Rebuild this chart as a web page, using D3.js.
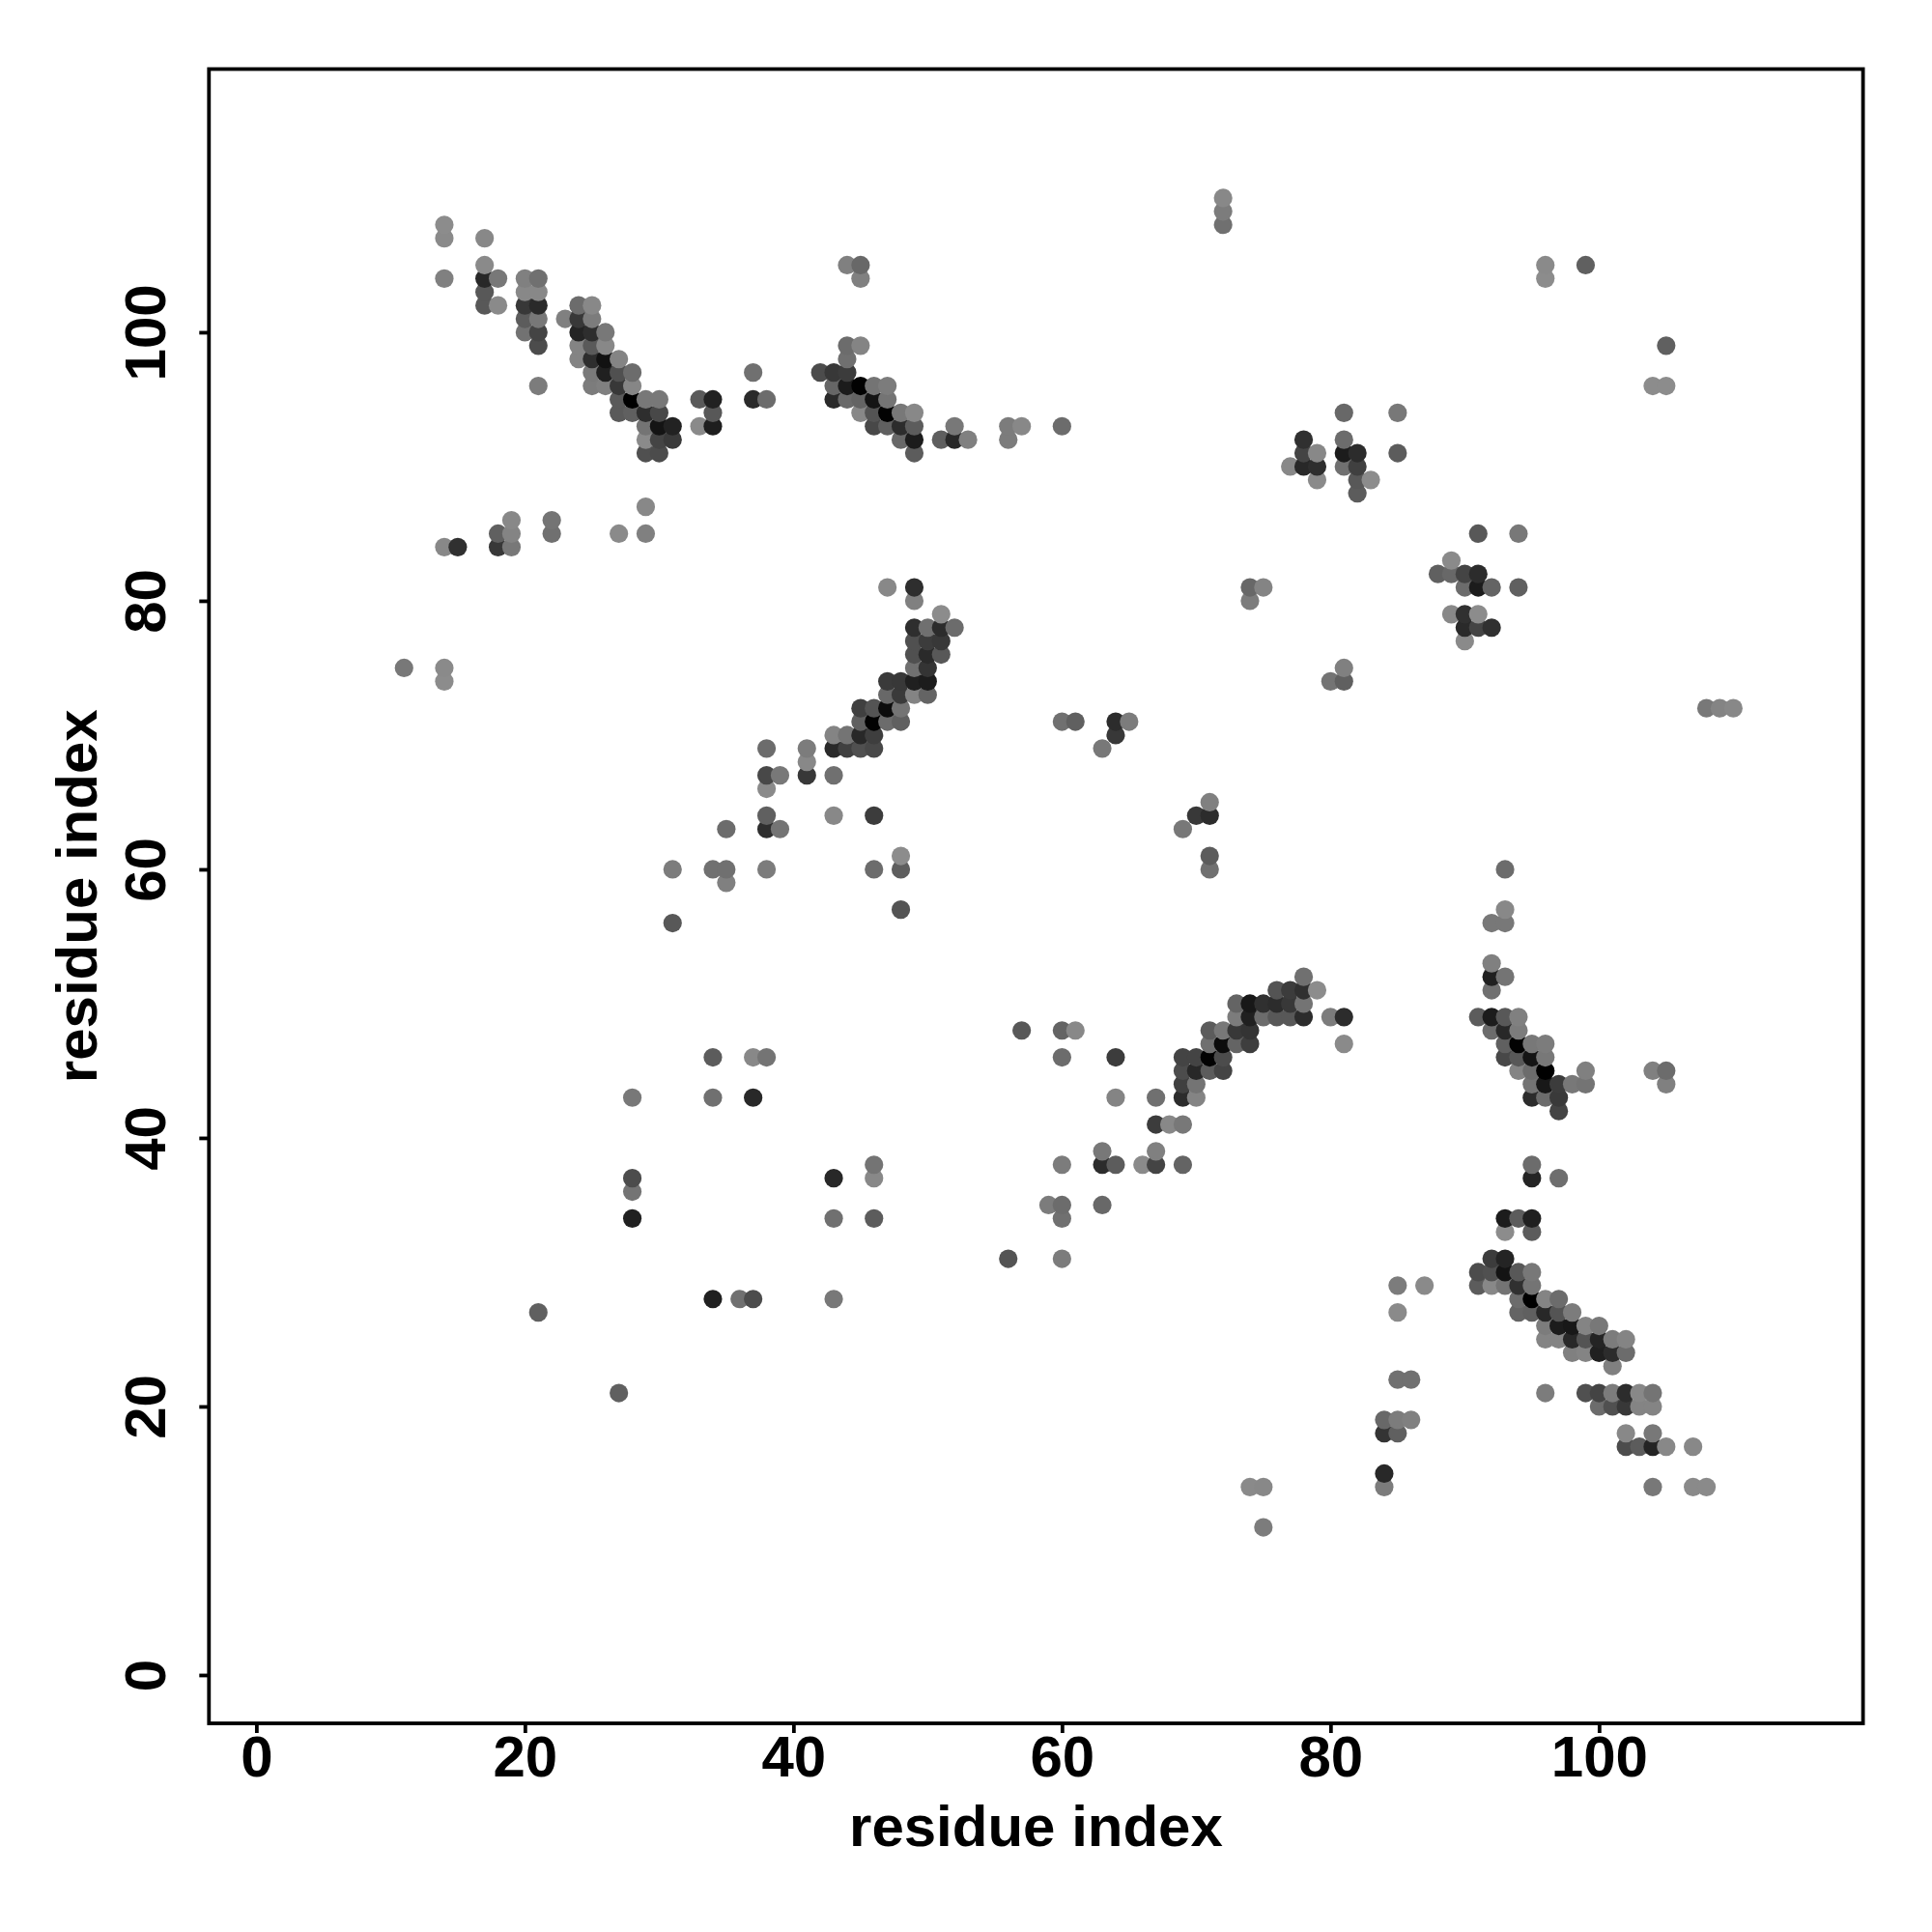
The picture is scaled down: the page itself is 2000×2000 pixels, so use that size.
<!DOCTYPE html>
<html>
<head>
<meta charset="utf-8">
<style>html,body{margin:0;padding:0;background:#fff}svg{display:block}</style>
<script src="https://cdnjs.cloudflare.com/ajax/libs/d3/7.9.0/d3.min.js"></script>
</head>
<body>
<svg id="chart" width="2000" height="2000"></svg>
<script>
// Each contact: [residue i, residue j, grey level]
const columns11to23 = [
[11,75,0x78],
[14,108,0x8c],[14,107,0x8a],[14,104,0x80],[14,84,0x88],[14,75,0x8a],[14,74,0x8c],
[15,84,0x30],
[17,107,0x88],[17,105,0x8a],[17,104,0x28],[17,103,0x58],[17,102,0x58],
[18,104,0x78],[18,102,0x8a],[18,85,0x60],[18,84,0x38],
[19,86,0x88],[19,85,0x84],[19,84,0x78],
[20,104,0x80],[20,103,0x88],[20,102,0x38],[20,101,0x5c],[20,100,0x72],
[21,104,0x70],[21,103,0x88],[21,102,0x2a],[21,101,0x78],[21,100,0x44],[21,99,0x4c],[21,96,0x7c],[21,27,0x60],
[22,86,0x74],[22,85,0x70],
[23,101,0x80]
];
const columns24to38 = [
[24,102,0x6c],[24,101,0x38],[24,100,0x24],[24,99,0x84],[24,98,0x84],
[25,102,0x88],[25,101,0x7c],[25,100,0x2e],[25,99,0x5a],[25,98,0x2e],[25,97,0x7a],[25,96,0x7c],
[26,100,0x78],[26,99,0x88],[26,98,0x12],[26,97,0x20],[26,96,0x80],
[27,98,0x84],[27,97,0x50],[27,96,0x38],[27,95,0x5a],[27,94,0x5a],[27,85,0x8a],[27,21,0x60],
[28,97,0x6c],[28,96,0x86],[28,95,0x00],[28,94,0x60],[28,43,0x78],[28,37,0x4c],[28,36,0x74],[28,34,0x20],
[29,95,0x78],[29,94,0x2e],[29,93,0x74],[29,92,0x8a],[29,91,0x50],[29,87,0x88],[29,85,0x80],
[30,95,0x78],[30,94,0x48],[30,93,0x14],[30,92,0x44],[30,91,0x4c],
[31,93,0x22],[31,92,0x3a],[31,60,0x7c],[31,56,0x58],
[33,95,0x5a],[33,93,0x8a],
[34,95,0x22],[34,94,0x58],[34,93,0x1e],[34,60,0x70],[34,46,0x5c],[34,43,0x70],[34,28,0x20],
[35,63,0x6c],[35,60,0x70],[35,59,0x80],
[36,28,0x70],
[37,97,0x70],[37,95,0x2a],[37,46,0x88],[37,43,0x28],[37,28,0x4c],
[38,95,0x6c],[38,69,0x6c],[38,67,0x48],[38,66,0x8a],[38,64,0x60],[38,63,0x2e],[38,60,0x7c],[38,46,0x74]
];
const columns39to53 = [
[39,67,0x78],[39,63,0x74],
[41,69,0x7c],[41,68,0x88],[41,67,0x38],
[42,97,0x4c],
[43,97,0x38],[43,96,0x66],[43,95,0x2a],[43,70,0x84],[43,69,0x2a],[43,67,0x70],[43,64,0x88],[43,37,0x28],[43,34,0x70],[43,28,0x78],
[44,105,0x80],[44,99,0x6c],[44,98,0x70],[44,97,0x3c],[44,96,0x1c],[44,95,0x6a],[44,70,0x74],[44,69,0x40],
[45,105,0x68],[45,104,0x80],[45,99,0x84],[45,96,0x02],[45,95,0x64],[45,94,0x88],[45,72,0x40],[45,71,0x60],[45,70,0x28],[45,69,0x50],
[46,96,0x74],[46,95,0x14],[46,94,0x54],[46,93,0x48],[46,72,0x54],[46,71,0x02],[46,70,0x3e],[46,69,0x48],[46,64,0x3c],[46,60,0x6c],[46,38,0x74],[46,37,0x88],[46,34,0x5c],
[47,96,0x7c],[47,95,0x74],[47,94,0x02],[47,93,0x60],[47,81,0x88],[47,74,0x3a],[47,73,0x68],[47,72,0x0c],[47,71,0x6c],
[48,94,0x78],[48,93,0x2c],[48,92,0x68],[48,74,0x38],[48,73,0x3a],[48,72,0x74],[48,71,0x60],[48,61,0x8c],[48,60,0x5e],[48,57,0x54],
[49,94,0x88],[49,93,0x5c],[49,92,0x1c],[49,91,0x5c],[49,81,0x2e],[49,80,0x80],[49,78,0x2e],[49,77,0x50],[49,76,0x50],[49,75,0x70],[49,74,0x20],[49,73,0x84],
[50,78,0x70],[50,77,0x3c],[50,76,0x2a],[50,75,0x34],[50,74,0x1c],[50,73,0x64],
[51,92,0x5e],[51,79,0x8c],[51,78,0x2c],[51,77,0x38],[51,76,0x58],
[52,93,0x78],[52,92,0x28],[52,78,0x6c],
[53,92,0x80]
];
const columns56to72 = [
[56,93,0x7c],[56,92,0x7c],[56,31,0x54],
[57,93,0x88],[57,48,0x58],
[59,35,0x7c],
[60,93,0x6c],[60,71,0x70],[60,48,0x64],[60,46,0x6c],[60,38,0x7c],[60,35,0x6c],[60,34,0x70],[60,31,0x7c],
[61,71,0x60],[61,48,0x88],
[63,69,0x78],[63,39,0x78],[63,38,0x2c],[63,35,0x68],
[64,71,0x2c],[64,70,0x38],[64,46,0x3c],[64,43,0x84],[64,38,0x5c],
[65,71,0x7c],
[66,38,0x8a],
[67,43,0x70],[67,41,0x3c],[67,39,0x80],[67,38,0x44],
[68,41,0x88],
[69,63,0x78],[69,46,0x44],[69,45,0x4c],[69,44,0x40],[69,43,0x2c],[69,41,0x78],[69,38,0x64],
[70,64,0x38],[70,46,0x44],[70,45,0x28],[70,44,0x74],[70,43,0x84],
[71,65,0x80],[71,64,0x2c],[71,61,0x5c],[71,60,0x70],[71,48,0x5c],[71,47,0x70],[71,46,0x02],[71,45,0x5c],
[72,110,0x88],[72,109,0x7c],[72,108,0x70],[72,48,0x78],[72,47,0x0c],[72,46,0x4c],[72,45,0x44]
];
const columns73to87 = [
[73,50,0x64],[73,49,0x7c],[73,48,0x38],[73,47,0x64],
[74,81,0x68],[74,80,0x7c],[74,50,0x18],[74,49,0x20],[74,48,0x34],[74,47,0x3e],[74,14,0x8a],
[75,81,0x84],[75,50,0x30],[75,49,0x6c],[75,14,0x88],[75,11,0x7c],
[76,51,0x54],[76,50,0x2c],[76,49,0x58],
[77,90,0x88],[77,51,0x3c],[77,50,0x38],[77,49,0x58],
[78,92,0x30],[78,91,0x44],[78,90,0x28],[78,52,0x70],[78,51,0x30],[78,50,0x74],[78,49,0x2c],
[79,91,0x88],[79,90,0x2e],[79,89,0x8a],[79,51,0x8c],
[80,74,0x74],[80,49,0x7c],
[81,94,0x68],[81,92,0x6c],[81,91,0x1c],[81,90,0x70],[81,75,0x80],[81,74,0x60],[81,49,0x2c],[81,47,0x8a],
[82,91,0x2c],[82,90,0x40],[82,89,0x58],[82,88,0x5c],
[83,89,0x8c],
[84,19,0x68],[84,18,0x34],[84,15,0x28],[84,14,0x7c],
[85,94,0x78],[85,91,0x5c],[85,29,0x7c],[85,27,0x8a],[85,22,0x70],[85,19,0x7c],[85,18,0x60],
[86,22,0x70],[86,19,0x80],
[87,29,0x8a]
];
const columns88to95 = [
[88,82,0x60],
[89,83,0x8a],[89,82,0x68],[89,79,0x88],
[90,82,0x44],[90,81,0x6c],[90,79,0x30],[90,78,0x2a],[90,77,0x8a],
[91,85,0x58],[91,82,0x2c],[91,81,0x1c],[91,79,0x8c],[91,78,0x44],[91,49,0x5c],[91,30,0x4c],[91,29,0x5c],
[92,81,0x64],[92,78,0x30],[92,56,0x78],[92,53,0x80],[92,52,0x20],[92,51,0x70],[92,49,0x1c],[92,48,0x6c],[92,31,0x3c],[92,30,0x50],[92,29,0x88],
[93,60,0x6c],[93,57,0x88],[93,56,0x78],[93,52,0x74],[93,49,0x58],[93,48,0x28],[93,47,0x60],[93,46,0x48],[93,34,0x1c],[93,33,0x8c],[93,31,0x24],[93,30,0x14],[93,29,0x74],
[94,85,0x78],[94,81,0x60],[94,49,0x80],[94,48,0x7c],[94,47,0x02],[94,46,0x58],[94,45,0x84],[94,34,0x5c],[94,30,0x58],[94,29,0x30],[94,28,0x6c],[94,27,0x64],
[95,47,0x78],[95,46,0x14],[95,45,0x6c],[95,44,0x74],[95,43,0x2c],[95,38,0x6c],[95,37,0x24],[95,34,0x20],[95,33,0x5c],[95,30,0x78],[95,29,0x74],[95,28,0x00],[95,27,0x60]
];
const columns96to110 = [
[96,105,0x8a],[96,104,0x8c],[96,47,0x7c],[96,46,0x78],[96,45,0x00],[96,44,0x18],[96,43,0x6c],[96,28,0x84],[96,27,0x28],[96,26,0x7c],[96,25,0x84],[96,21,0x7c],
[97,44,0x3c],[97,43,0x3a],[97,42,0x44],[97,37,0x6e],[97,28,0x6c],[97,27,0x54],[97,26,0x1c],[97,25,0x84],
[98,44,0x78],[98,27,0x7c],[98,26,0x18],[98,25,0x28],[98,24,0x80],
[99,105,0x60],[99,45,0x80],[99,44,0x74],[99,26,0x84],[99,25,0x54],[99,24,0x84],[99,21,0x50],
[100,26,0x78],[100,25,0x24],[100,24,0x20],[100,21,0x44],[100,20,0x6c],
[101,25,0x7c],[101,24,0x2c],[101,23,0x80],[101,21,0x7c],[101,20,0x50],
[102,25,0x84],[102,24,0x6c],[102,21,0x2c],[102,20,0x38],[102,18,0x88],[102,17,0x4c],
[103,21,0x88],[103,20,0x84],[103,17,0x5c],
[104,96,0x8c],[104,45,0x80],[104,21,0x74],[104,20,0x84],[104,18,0x78],[104,17,0x24],[104,14,0x78],
[105,99,0x60],[105,96,0x8c],[105,45,0x6c],[105,44,0x80],[105,17,0x88],
[107,17,0x88],[107,14,0x8a],
[108,72,0x78],[108,14,0x8a],
[109,72,0x84],
[110,72,0x88]
];
const tickValues = [0, 20, 40, 60, 80, 100];
const xDomain = [-3.53, 119.66];
const yDomain = [-3.6, 119.6];
const axisTitle = "residue index";

const contacts = [].concat(columns11to23, columns24to38, columns39to53, columns56to72, columns73to87, columns88to95, columns96to110)
  .map(d => ({i: d[0], j: d[1], grey: d[2]}))
  .sort((a, b) => d3.ascending(a.i, b.i) || d3.ascending(a.j, b.j));

const FONT = '"Liberation Sans", Arial, sans-serif';
const FONT_SIZE = "60px";
const frameLeft = 216.3, frameRight = 1928.6, frameTop = 71.5, frameBottom = 1784;
const xScale = d3.scaleLinear().domain(xDomain).range([frameLeft, frameRight]);
const yScale = d3.scaleLinear().domain(yDomain).range([frameBottom, frameTop]);
const shade = d3.scaleLinear().domain([0, 255]).range(["#000000", "#ffffff"]);

const svg = d3.select("#chart");
svg.append("rect").attr("width", 2000).attr("height", 2000).attr("fill", "#fff");

svg.append("g").selectAll("circle").data(contacts).join("circle")
  .attr("cx", d => xScale(d.i))
  .attr("cy", d => yScale(d.j))
  .attr("r", 9.6)
  .attr("fill", d => shade(d.grey));

svg.append("rect")
  .attr("x", frameLeft).attr("y", frameTop)
  .attr("width", frameRight - frameLeft).attr("height", frameBottom - frameTop)
  .attr("fill", "none").attr("stroke", "#000").attr("stroke-width", 3.8);

const gx = svg.append("g").attr("transform", `translate(0,${frameBottom})`)
  .call(d3.axisBottom(xScale).tickValues(tickValues).tickSize(10).tickFormat(d3.format("d")));
gx.select(".domain").remove();
gx.selectAll(".tick line").attr("stroke", "#000").attr("stroke-width", 3.8);
gx.selectAll(".tick text")
  .attr("y", 55).attr("dy", 0)
  .attr("fill", "#000")
  .style("font-family", FONT).style("font-weight", "bold").style("font-size", FONT_SIZE);

const gy = svg.append("g").attr("transform", `translate(${frameLeft},0)`)
  .call(d3.axisLeft(yScale).tickValues(tickValues).tickSize(10).tickFormat(d3.format("d")));
gy.select(".domain").remove();
gy.selectAll(".tick line").attr("stroke", "#000").attr("stroke-width", 3.8);
gy.selectAll(".tick text")
  .attr("x", 0).attr("y", -45.3).attr("dy", 0)
  .attr("transform", "rotate(-90)")
  .attr("text-anchor", "middle")
  .attr("fill", "#000")
  .style("font-family", FONT).style("font-weight", "bold").style("font-size", FONT_SIZE);

svg.append("text")
  .attr("x", (frameLeft + frameRight) / 2).attr("y", 1911)
  .attr("text-anchor", "middle")
  .attr("fill", "#000")
  .style("font-family", FONT).style("font-weight", "bold").style("font-size", FONT_SIZE)
  .text(axisTitle);

svg.append("text")
  .attr("transform", `translate(99.5,${(frameTop + frameBottom) / 2}) rotate(-90)`)
  .attr("text-anchor", "middle")
  .attr("fill", "#000")
  .style("font-family", FONT).style("font-weight", "bold").style("font-size", FONT_SIZE)
  .text(axisTitle);
</script>
</body>
</html>
